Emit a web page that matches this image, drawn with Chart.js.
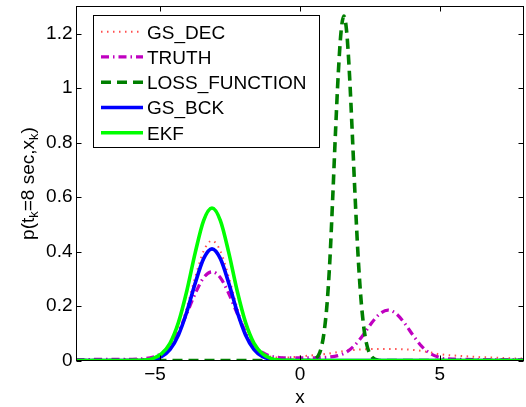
<!DOCTYPE html>
<html>
<head>
<meta charset="utf-8">
<script src="https://cdn.jsdelivr.net/npm/chart.js@4.4.1/dist/chart.umd.min.js"></script>
<style>
  html, body { margin: 0; padding: 0; background: #fff; }
  canvas { display: block; }
</style>
</head>
<body>
<canvas id="densityChart" width="526" height="407"></canvas>
<script>
// grid shared by the wide densities
var xGrid = [-8, -7.2, -6.45, -6.15, -5.85, -5.55, -5.25, -4.95, -4.65, -4.35, -4.05, -3.75, -3.45, -3.15,
  -2.85, -2.55, -2.25, -1.95, -1.65, -1.35, -1.05, -0.75, -0.45, -0.15, 0.15, 0.45, 0.75, 1.05, 1.35, 1.65,
  1.95, 2.25, 2.55, 2.85, 3.15, 3.45, 3.75, 4.05, 4.35, 4.65, 4.95, 5.25, 5.55, 5.85, 6.3, 6.9, 7.5, 8];

var gsDec = [0.003, 0.003, 0.003, 0.004, 0.005, 0.006, 0.009, 0.02, 0.048, 0.104, 0.195, 0.306, 0.402, 0.44,
  0.402, 0.306, 0.195, 0.104, 0.05, 0.024, 0.014, 0.011, 0.011, 0.013, 0.016, 0.019, 0.022, 0.026, 0.031, 0.036,
  0.039, 0.041, 0.042, 0.042, 0.042, 0.042, 0.041, 0.039, 0.035, 0.03, 0.024, 0.02, 0.018, 0.016, 0.013, 0.011, 0.008, 0.007];

var truth = [0.003, 0.004, 0.004, 0.004, 0.005, 0.007, 0.013, 0.027, 0.056, 0.106, 0.173, 0.246, 0.304, 0.326,
  0.304, 0.246, 0.173, 0.106, 0.058, 0.03, 0.016, 0.011, 0.01, 0.01, 0.01, 0.01, 0.011, 0.013, 0.018, 0.03,
  0.055, 0.092, 0.136, 0.171, 0.185, 0.171, 0.136, 0.092, 0.053, 0.027, 0.013, 0.006, 0.005, 0.004, 0.003, 0.002, 0.002, 0.002];

var gsBck = [0, 0, 0, 0, 0, 0.001, 0.005, 0.015, 0.041, 0.094, 0.179, 0.284, 0.374, 0.41,
  0.374, 0.284, 0.179, 0.094, 0.041, 0.015, 0.005, 0.001, 0, 0, 0, 0, 0, 0, 0, 0,
  0, 0, 0, 0, 0, 0, 0, 0, 0, 0, 0, 0, 0, 0, 0, 0, 0, 0];

var ekf = [0, 0, 0, 0, 0.001, 0.002, 0.008, 0.025, 0.064, 0.14, 0.256, 0.396, 0.514, 0.56,
  0.514, 0.396, 0.256, 0.14, 0.064, 0.025, 0.008, 0.002, 0.001, 0, 0, 0, 0, 0, 0, 0,
  0, 0, 0, 0, 0, 0, 0, 0, 0, 0, 0, 0, 0, 0, 0, 0, 0, 0];

// loss function is narrow, so it gets its own finer grid
var lossX = [-8, 0.27, 0.37, 0.47, 0.57, 0.67, 0.77, 0.87, 0.97, 1.07, 1.17, 1.27, 1.37, 1.47, 1.57,
  1.67, 1.77, 1.87, 1.97, 2.07, 2.17, 2.27, 2.37, 2.47, 2.57, 2.67, 2.77, 2.87, 8];
var lossFunction = [0, 0, 0.001, 0.003, 0.008, 0.02, 0.05, 0.11, 0.21, 0.37, 0.595, 0.837, 1.053, 1.208, 1.265,
  1.208, 1.053, 0.837, 0.607, 0.401, 0.242, 0.133, 0.067, 0.031, 0.013, 0.005, 0.002, 0, 0];

var xTicks = [-5, 0, 5];
var yTicks = [0, 0.2, 0.4, 0.6, 0.8, 1, 1.2];

var FONT = "'Liberation Sans', Arial, Helvetica, sans-serif";

function toPoints(xs, ys) {
    return xs.map(function (x, i) { return { x: x, y: ys[i] }; });
}

// legend order; EKF is painted last so it sits on top
var series = [
    { label: 'GS_DEC', xs: xGrid, ys: gsDec, color: 'rgba(255,60,60,0.9)', width: 2, dash: [1.5, 4.5] },
    { label: 'TRUTH', xs: xGrid, ys: truth, color: '#c000c0', width: 3.2, dash: [8, 4, 1.5, 4] },
    { label: 'LOSS_FUNCTION', xs: lossX, ys: lossFunction, color: '#007f00', width: 3.6, dash: [10, 6] },
    { label: 'GS_BCK', xs: xGrid, ys: gsBck, color: '#0000ff', width: 3.6, dash: [] },
    { label: 'EKF', xs: xGrid, ys: ekf, color: '#00ff00', width: 3.6, dash: [] }
];

var datasets = series.map(function (s, i) {
    return {
        label: s.label,
        data: toPoints(s.xs, s.ys),
        borderColor: s.color,
        borderWidth: s.width,
        borderDash: s.dash,
        pointRadius: 0,
        fill: false,
        cubicInterpolationMode: 'monotone',
        order: series.length - i
    };
});

function drawYTitle(ctx, cx, cy) {
    var parts = [
        { t: 'p(t', sub: false }, { t: 'k', sub: true }, { t: '=8 sec,x', sub: false },
        { t: 'k', sub: true }, { t: ')', sub: false }
    ];
    var big = '19px ' + FONT, small = '13px ' + FONT;
    var total = 0;
    parts.forEach(function (p) {
        ctx.font = p.sub ? small : big;
        p.w = ctx.measureText(p.t).width;
        total += p.w;
    });
    ctx.save();
    ctx.translate(cx, cy);
    ctx.rotate(-Math.PI / 2);
    ctx.fillStyle = '#000';
    ctx.textBaseline = 'alphabetic';
    ctx.textAlign = 'left';
    var x = -total / 2;
    parts.forEach(function (p) {
        ctx.font = p.sub ? small : big;
        ctx.fillText(p.t, x, p.sub ? 4 : 0);
        x += p.w;
    });
    ctx.restore();
}

var matlabAxes = {
    id: 'matlabAxes',
    afterDraw: function (chart) {
        var ctx = chart.ctx, a = chart.chartArea;
        var xs = chart.scales.x, ys = chart.scales.y;
        ctx.save();
        ctx.strokeStyle = '#000';
        ctx.lineWidth = 1;
        ctx.setLineDash([]);
        ctx.strokeRect(a.left, a.top, a.right - a.left, a.bottom - a.top);

        // inward tick marks on all four sides
        ctx.beginPath();
        xTicks.forEach(function (v) {
            var px = Math.round(xs.getPixelForValue(v)) + 0.5;
            ctx.moveTo(px, a.bottom); ctx.lineTo(px, a.bottom - 5);
            ctx.moveTo(px, a.top); ctx.lineTo(px, a.top + 5);
        });
        yTicks.forEach(function (v) {
            var py = Math.round(ys.getPixelForValue(v)) + 0.5;
            ctx.moveTo(a.left, py); ctx.lineTo(a.left + 5, py);
            ctx.moveTo(a.right, py); ctx.lineTo(a.right - 5, py);
        });
        ctx.stroke();

        // axis titles
        ctx.fillStyle = '#000';
        ctx.font = '19px ' + FONT;
        ctx.textAlign = 'center';
        ctx.textBaseline = 'alphabetic';
        ctx.fillText('x', (a.left + a.right) / 2, 403);
        drawYTitle(ctx, 34, (a.top + a.bottom) / 2);

        // legend box
        var bx = 93.5, by = 15.5, bw = 226, bh = 132;
        ctx.fillStyle = '#fff';
        ctx.fillRect(bx, by, bw, bh);
        ctx.strokeRect(bx, by, bw, bh);
        series.forEach(function (s, i) {
            var y = 31.7 + i * 25.25;
            ctx.beginPath();
            ctx.strokeStyle = s.color;
            ctx.lineWidth = s.width;
            ctx.setLineDash(s.dash);
            ctx.moveTo(101, y);
            ctx.lineTo(143, y);
            ctx.stroke();
            ctx.setLineDash([]);
            ctx.fillStyle = '#000';
            ctx.font = '19px ' + FONT;
            ctx.textAlign = 'left';
            ctx.fillText(s.label, 147, y + 6.8);
        });
        ctx.restore();
    }
};

function noLabelPadding(scale) {
    scale.paddingTop = 0;
    scale.paddingBottom = 0;
    scale.paddingLeft = 0;
    scale.paddingRight = 0;
}

new Chart(document.getElementById('densityChart').getContext('2d'), {
    type: 'line',
    data: { datasets: datasets },
    options: {
        responsive: false,
        animation: false,
        devicePixelRatio: 1,
        layout: { padding: { left: 0, right: 2.5, top: 6.5, bottom: 0 } },
        plugins: { legend: { display: false }, tooltip: { enabled: false } },
        scales: {
            x: {
                type: 'linear',
                min: -8,
                max: 8,
                afterBuildTicks: function (scale) {
                    scale.ticks = xTicks.map(function (v) { return { value: v }; });
                },
                afterFit: function (scale) { scale.height = 46.5; noLabelPadding(scale); },
                grid: { display: false, drawTicks: false },
                border: { display: false },
                ticks: {
                    autoSkip: false,
                    maxRotation: 0,
                    padding: 3,
                    color: '#000',
                    font: { family: FONT, size: 19 },
                    callback: function (v) {
                        return v < 0 ? '\u2212' + Math.abs(v) + '  ' : String(v);
                    }
                }
            },
            y: {
                type: 'linear',
                min: 0,
                max: 1.3,
                afterBuildTicks: function (scale) {
                    scale.ticks = yTicks.map(function (v) { return { value: v }; });
                },
                afterFit: function (scale) { scale.width = 76.5; noLabelPadding(scale); },
                grid: { display: false, drawTicks: false },
                border: { display: false },
                ticks: {
                    autoSkip: false,
                    padding: 4,
                    color: '#000',
                    font: { family: FONT, size: 19 },
                    callback: function (v) { return String(v); }
                }
            }
        }
    },
    plugins: [matlabAxes]
});
</script>
</body>
</html>
